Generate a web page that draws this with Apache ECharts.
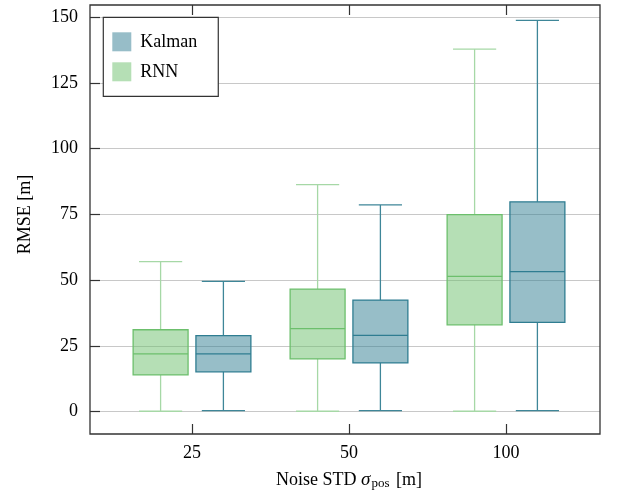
<!DOCTYPE html>
<html>
<head>
<meta charset="utf-8">
<script src="https://cdn.jsdelivr.net/npm/echarts@6/dist/echarts.min.js"></script>
<style>html,body{margin:0;padding:0;background:#fff}#c{width:621px;height:493px}</style>
</head>
<body>
<div id="c"></div>
<script>
// ---- data ----
const categories = ['25', '50', '100'];
const seriesNames = ['Kalman', 'RNN'];
// [min, q1, median, q3, max]
const kalmanStats = [
  [0.3, 15.1, 21.9, 28.9, 49.5],
  [0.3, 18.5, 29.0, 42.4, 78.6],
  [0.3, 33.9, 53.2, 79.8, 148.8]
];
const rnnStats = [
  [0.1, 13.9, 21.9, 31.1, 57.0],
  [0.1, 20.0, 31.5, 46.6, 86.3],
  [0.1, 33.0, 51.4, 74.9, 137.9]
];
const yTicks = [0, 25, 50, 75, 100, 125, 150];

// ---- styles ----
const FONT = "'Liberation Serif', 'DejaVu Serif', serif";
const styles = {
  Kalman: { stroke: '#2f7d91', whisker: '#3e8698', fill: 'rgba(47,125,145,0.5)', legend: '#97bdc8', offset: 0.2 },
  RNN: { stroke: '#6cbf6c', whisker: '#a6d8a6', fill: 'rgba(108,191,108,0.5)', legend: '#b5dfb5', offset: -0.2 }
};

function makeRender(st) {
  return function (params, api) {
    const idx = api.value(0);
    const vmin = api.value(1), q1 = api.value(2), med = api.value(3), q3 = api.value(4), vmax = api.value(5);
    const band = api.size([1, 0])[0];
    const cx = api.coord([idx, 0])[0] + st.offset * band;
    const bw = 0.35 * band, cw = 0.275 * band;
    const y = v => api.coord([idx, v])[1];
    const lw = 1.3;
    const line = (x1, y1, x2, y2, c) => ({ type: 'line', shape: { x1, y1, x2, y2 }, style: { stroke: c, lineWidth: lw } });
    return {
      type: 'group',
      children: [
        line(cx, y(vmax), cx, y(q3), st.whisker),
        line(cx, y(q1), cx, y(vmin), st.whisker),
        line(cx - cw / 2, y(vmax), cx + cw / 2, y(vmax), st.whisker),
        line(cx - cw / 2, y(vmin), cx + cw / 2, y(vmin), st.whisker),
        { type: 'rect', shape: { x: cx - bw / 2, y: y(q3), width: bw, height: y(q1) - y(q3) },
          style: { fill: st.fill, stroke: st.stroke, lineWidth: lw } },
        line(cx - bw / 2, y(med), cx + bw / 2, y(med), st.stroke)
      ]
    };
  };
}

function toData(stats) { return stats.map((s, i) => [i].concat(s)); }

const tickStyle = { show: true, inside: true, alignWithLabel: true, length: 10, lineStyle: { color: '#333', width: 1.2 } };

const option = {
  backgroundColor: '#fff',
  animation: false,
  textStyle: { fontFamily: FONT, color: '#000' },
  grid: [
    { left: 90, right: 21, top: 17.3, bottom: 81.5, outerBoundsMode: 'none', containLabel: false },
    { left: 113.5, right: 36.5, top: 17.3, bottom: 81.5, outerBoundsMode: 'none', containLabel: false },
    { left: 113.5, right: 36.5, top: 5, bottom: 59, outerBoundsMode: 'none', containLabel: false }
  ],
  xAxis: [
    { gridIndex: 0, type: 'value', min: 0, max: 1, show: false },
    { gridIndex: 1, type: 'category', data: categories, boundaryGap: true, show: false },
    { gridIndex: 2, type: 'category', data: categories, boundaryGap: true, position: 'bottom',
      axisLine: { show: false }, axisTick: tickStyle,
      axisLabel: { fontSize: 18, fontFamily: FONT, color: '#000', margin: 10 },
      name: 'Noise STD {i|σ}{s|pos} [m]', nameLocation: 'middle', nameGap: 36,
      nameTextStyle: { fontSize: 18, fontFamily: FONT, color: '#000',
        rich: { i: { fontSize: 19, fontStyle: 'italic', fontFamily: FONT, color: '#000' },
                s: { fontSize: 13, fontFamily: FONT, color: '#000', padding: [7, 2, 0, 1] } } },
      splitLine: { show: false } },
    { gridIndex: 2, type: 'category', data: categories, boundaryGap: true, position: 'top',
      axisLine: { show: false }, axisTick: tickStyle,
      axisLabel: { show: false }, splitLine: { show: false } }
  ],
  yAxis: [
    { gridIndex: 0, type: 'value', min: yTicks[0], max: yTicks[yTicks.length - 1], interval: 25,
      axisLine: { show: false },
      axisTick: { show: true, inside: true, length: 10, lineStyle: { color: '#333', width: 1.2 } },
      axisLabel: { fontSize: 18, fontFamily: FONT, color: '#000', margin: 12 },
      splitLine: { show: true, lineStyle: { color: '#c8c8c8', width: 1.2 } },
      name: 'RMSE [m]', nameLocation: 'middle', nameGap: 56, nameRotate: 90,
      nameTextStyle: { fontSize: 18, fontFamily: FONT, color: '#000' } },
    { gridIndex: 1, type: 'value', min: yTicks[0], max: yTicks[yTicks.length - 1], show: false },
    { gridIndex: 2, type: 'value', min: 0, max: 1, show: false }
  ],
  legend: {
    orient: 'vertical', left: 103.3, top: 17.3,
    padding: [15, 21, 15, 9], itemGap: 11, itemWidth: 19, itemHeight: 19,
    backgroundColor: '#fff', borderColor: '#333', borderWidth: 1.2, borderRadius: 0,
    textStyle: { fontSize: 18, fontFamily: FONT, color: '#000', padding: [0, 0, 0, 4] },
    data: seriesNames.map(n => ({ name: n, icon: 'rect', itemStyle: { color: styles[n].legend, borderWidth: 0 } }))
  },
  graphic: [
    { type: 'rect', z: 100, silent: true, shape: { x: 90, y: 5, width: 510, height: 429 },
      style: { fill: 'none', stroke: '#333', lineWidth: 1.3 } }
  ],
  series: [
    { name: 'Kalman', type: 'custom', xAxisIndex: 1, yAxisIndex: 1, renderItem: makeRender(styles.Kalman),
      encode: { x: 0, y: [1, 2, 3, 4, 5] }, data: toData(kalmanStats), itemStyle: { color: styles.Kalman.legend }, z: 3 },
    { name: 'RNN', type: 'custom', xAxisIndex: 1, yAxisIndex: 1, renderItem: makeRender(styles.RNN),
      encode: { x: 0, y: [1, 2, 3, 4, 5] }, data: toData(rnnStats), itemStyle: { color: styles.RNN.legend }, z: 3 }
  ]
};

const chart = echarts.init(document.getElementById('c'), null, { renderer: 'canvas' });
chart.setOption(option);
</script>
</body>
</html>
